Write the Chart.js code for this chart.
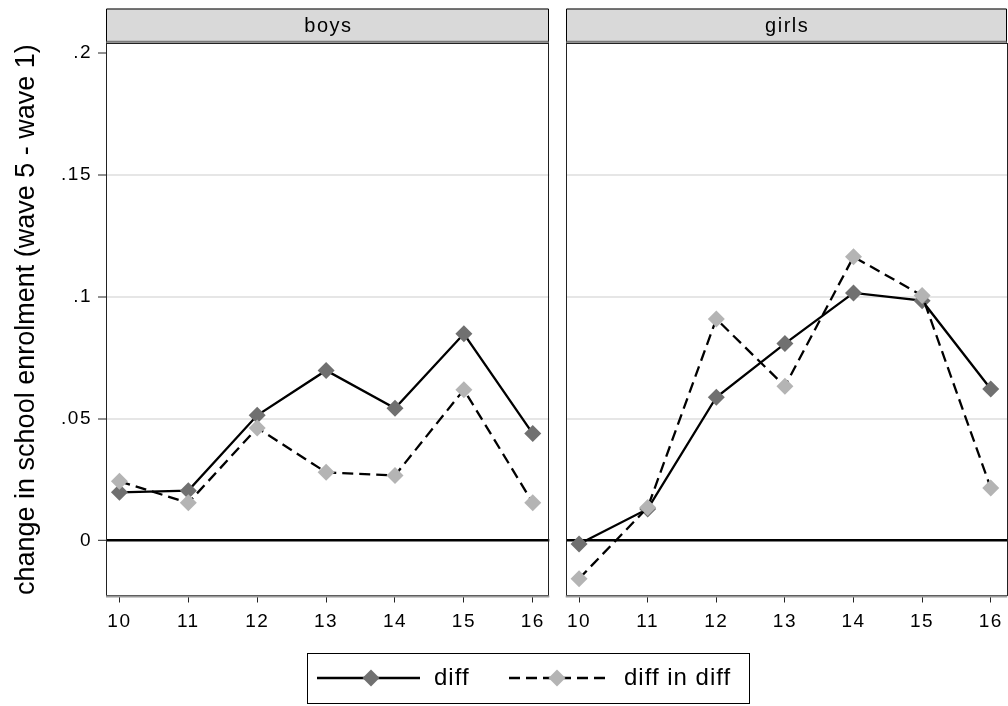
<!DOCTYPE html>
<html><head><meta charset="utf-8">
<script src="https://cdn.jsdelivr.net/npm/chart.js@4"></script>
<style>
html,body{margin:0;padding:0;background:#fff;overflow:hidden;}
#wrap{position:relative;width:1008px;height:706px;overflow:hidden;}
#wrap canvas{position:absolute;left:0;top:0;}
</style></head><body>
<div id="wrap">
<canvas id="boys" width="1040" height="706"></canvas>
<canvas id="girls" width="1040" height="706"></canvas>
</div>
<script>
// ---- data ----
const ages = [10, 11, 12, 13, 14, 15, 16];
const boysDiff = [0.0198, 0.0205, 0.0514, 0.0698, 0.0543, 0.0848, 0.0439];
const boysDiD  = [0.0243, 0.0155, 0.0462, 0.0280, 0.0267, 0.0619, 0.0155];
const girlsDiff = [-0.0014, 0.0130, 0.0588, 0.0808, 0.1016, 0.0984, 0.0622];
const girlsDiD  = [-0.0156, 0.0136, 0.0909, 0.0633, 0.1164, 0.1005, 0.0216];
const yTicks = [0, 0.05, 0.1, 0.15, 0.2];
const yTickLabels = ['0', '.05', '.1', '.15', '.2'];
const panelTitles = ['boys', 'girls'];
const seriesNames = ['diff', 'diff in diff'];
const yTitle = 'change in school enrolment (wave 5 - wave 1)';

const FONT = '"Liberation Sans", Arial, sans-serif';
Chart.defaults.font.family = FONT;
Chart.defaults.color = '#000';

const W = 1040, H = 706;
const AREA_TOP = 42.7, AREA_BOTTOM = 594.5;
const HEADER_TOP = 8.5;
const DIFF_COLOR = '#707070', DID_COLOR = '#b4b4b4';

function datasetsFor(diff, did) {
  return [
    { label: seriesNames[0], data: ages.map((a, i) => ({x: a, y: diff[i]})),
      borderColor: '#000', borderWidth: 2.3, pointStyle: 'rectRot', pointRadius: 8.5,
      pointBackgroundColor: DIFF_COLOR, pointBorderColor: DIFF_COLOR, pointBorderWidth: 0,
      tension: 0, order: 2 },
    { label: seriesNames[1], data: ages.map((a, i) => ({x: a, y: did[i]})),
      borderColor: '#000', borderWidth: 2.3, borderDash: [11, 6], pointStyle: 'rectRot', pointRadius: 8.5,
      pointBackgroundColor: DID_COLOR, pointBorderColor: DID_COLOR, pointBorderWidth: 0,
      tension: 0, order: 1 }
  ];
}

const panelPlugin = {
  id: 'panel',
  beforeDraw(chart) {
    chart.ctx.letterSpacing = '1.5px';
  },
  beforeDatasetsDraw(chart) {
    const {ctx, chartArea: a} = chart;
    ctx.save();
    ctx.strokeStyle = '#222';
    ctx.lineWidth = 1;
    ctx.strokeRect(Math.round(a.left) + 0.5, Math.round(a.top) + 0.5,
      Math.round(a.right - a.left) - 1, Math.round(a.bottom - a.top));
    ctx.strokeStyle = '#9a9a9a';
    ctx.lineWidth = 2;
    ctx.beginPath();
    ctx.moveTo(a.left, a.bottom + 2); ctx.lineTo(a.right, a.bottom + 2);
    ctx.stroke();
    ctx.restore();
  },
  afterDraw(chart, args, opts) {
    const {ctx, chartArea: a} = chart;
    ctx.save();
    const l = Math.round(a.left) + 0.5, r = Math.round(a.right) - 0.5;
    ctx.fillStyle = '#d9d9d9';
    ctx.fillRect(l, HEADER_TOP, r - l, a.top - HEADER_TOP);
    ctx.strokeStyle = '#000';
    ctx.lineWidth = 1;
    ctx.beginPath();
    ctx.moveTo(l, a.top); ctx.lineTo(l, HEADER_TOP + 0.5); ctx.lineTo(r, HEADER_TOP + 0.5); ctx.lineTo(r, a.top);
    ctx.stroke();
    ctx.strokeStyle = '#7a7a7a';
    ctx.lineWidth = 2;
    ctx.beginPath();
    ctx.moveTo(l, a.top - 1); ctx.lineTo(r, a.top - 1);
    ctx.stroke();
    ctx.fillStyle = '#000';
    ctx.letterSpacing = '1.5px';
    ctx.font = '20px ' + FONT;
    ctx.textAlign = 'center';
    ctx.textBaseline = 'middle';
    ctx.fillText(opts.title, (a.left + a.right) / 2 + 0.75, (HEADER_TOP + a.top) / 2 + 1);
    if (opts.yTitle) {
      ctx.letterSpacing = '0px';
      ctx.font = '27px ' + FONT;
      ctx.translate(27, (a.top + a.bottom) / 2 + 1);
      ctx.rotate(-Math.PI / 2);
      ctx.fillText(opts.yTitle, 0, 0);
    }
    ctx.restore();
  }
};

const legendPlugin = {
  id: 'boxLegend',
  afterDraw(chart, args, opts) {
    if (!opts.show) return;
    const ctx = chart.ctx;
    const box = {x: 307.5, y: 653.5, w: 442, h: 50};
    const cy = 678;
    const items = [
      {x0: 317, x1: 420, mx: 371, tx: 434},
      {x0: 509, x1: 608, mx: 557, tx: 624}
    ];
    ctx.save();
    ctx.strokeStyle = '#000';
    ctx.lineWidth = 1;
    ctx.strokeRect(box.x, box.y, box.w, box.h);
    chart.data.datasets.forEach((ds, i) => {
      const it = items[i];
      ctx.strokeStyle = ds.borderColor;
      ctx.lineWidth = ds.borderWidth;
      ctx.setLineDash(ds.borderDash || []);
      ctx.beginPath();
      ctx.moveTo(it.x0, cy); ctx.lineTo(it.x1, cy);
      ctx.stroke();
      ctx.setLineDash([]);
      const r = ds.pointRadius;
      ctx.fillStyle = ds.pointBackgroundColor;
      ctx.beginPath();
      ctx.moveTo(it.mx, cy - r); ctx.lineTo(it.mx + r, cy); ctx.lineTo(it.mx, cy + r); ctx.lineTo(it.mx - r, cy);
      ctx.closePath();
      ctx.fill();
      ctx.fillStyle = '#000';
      ctx.letterSpacing = '1px';
      ctx.font = '24px ' + FONT;
      ctx.textAlign = 'left';
      ctx.textBaseline = 'middle';
      ctx.fillText(ds.label, it.tx, cy);
    });
    ctx.restore();
  }
};

function gridColor(ctx) {
  const v = ctx.tick && ctx.tick.value;
  if (v === 0) return '#000';
  if (v === 0.2) return 'rgba(0,0,0,0)';
  return '#e6e6e6';
}
function gridWidth(ctx) {
  const v = ctx.tick && ctx.tick.value;
  return v === 0 ? 2.6 : 2;
}

function makeChart(id, diff, did, title, left, right, showY, showLegend) {
  return new Chart(document.getElementById(id), {
    type: 'line',
    data: { datasets: datasetsFor(diff, did) },
    options: {
      responsive: false,
      animation: false,
      events: [],
      layout: { padding: { left: showY ? 0 : left, right: W - right, top: AREA_TOP, bottom: 0 } },
      plugins: {
        legend: { display: false },
        tooltip: { enabled: false },
        panel: { title: title, yTitle: showY ? yTitle : null },
        boxLegend: { show: showLegend }
      },
      scales: {
        x: {
          type: 'linear', min: 9.805, max: 16.24,
          afterBuildTicks: s => { s.ticks = ages.map(v => ({value: v})); },
          afterFit: s => { s.height = H - AREA_BOTTOM; s.paddingLeft = 0; s.paddingRight = 0; },
          ticks: { font: { size: 19 }, color: '#000', padding: 8, autoSkip: false, maxRotation: 0,
                   callback: v => String(v) },
          grid: { drawOnChartArea: false, drawTicks: true, tickLength: 8, tickColor: '#222', tickWidth: 1 },
          border: { display: false }
        },
        y: {
          type: 'linear', min: -0.0221, max: 0.2042,
          afterBuildTicks: s => { s.ticks = yTicks.map(v => ({value: v})); },
          afterFit: s => { s.width = showY ? left : 0; s.paddingTop = 0; s.paddingBottom = 0; },
          ticks: { display: showY, font: { size: 19 }, color: '#000', padding: 6,
                   callback: (v, i) => yTickLabels[i] },
          grid: { color: gridColor, lineWidth: gridWidth, drawTicks: showY, tickLength: 8,
                  tickColor: '#222', tickWidth: 1 },
          border: { display: false },
          title: { display: false }
        }
      }
    },
    plugins: [panelPlugin, legendPlugin]
  });
}

makeChart('boys', boysDiff, boysDiD, panelTitles[0], 106, 549.3, true, false);
makeChart('girls', girlsDiff, girlsDiD, panelTitles[1], 565.7, 1007.2, false, true);
</script>
</body></html>
